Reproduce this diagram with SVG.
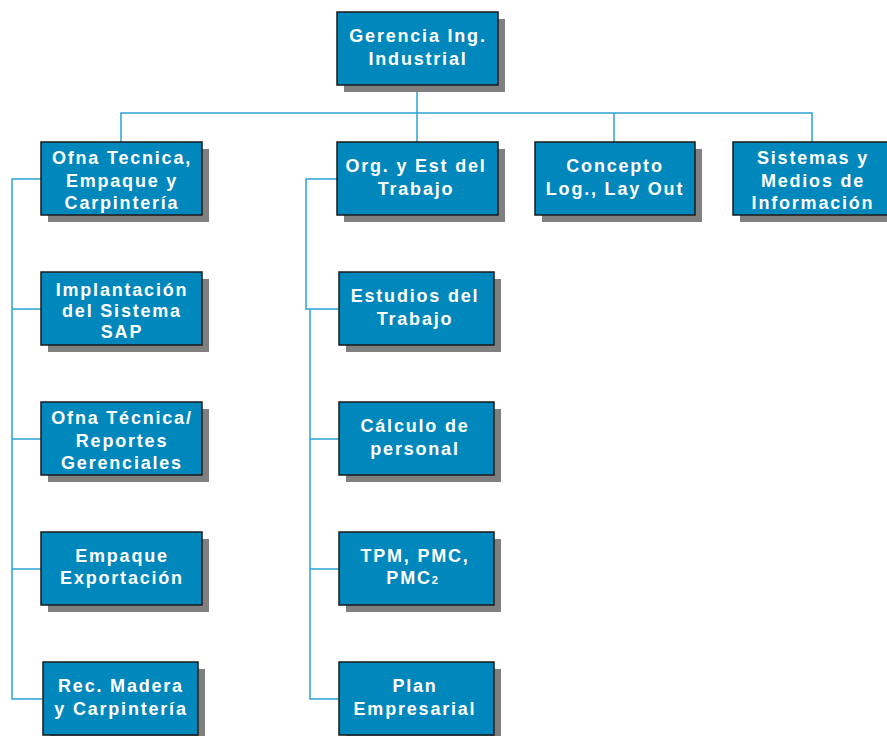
<svg xmlns="http://www.w3.org/2000/svg" width="887" height="736" viewBox="0 0 887 736">
<defs>
<style>
.box{fill:#0088BD;stroke:#1a1a1a;stroke-width:1.5}
.sh{fill:#808080}
.t{font-family:"Liberation Sans",Arial,sans-serif;font-weight:bold;font-size:18px;fill:#ffffff;text-anchor:middle;letter-spacing:1.8px}
.c{fill:none;stroke:#2BA3D4;stroke-width:1.5}
</style>
</defs>
<rect width="887" height="736" fill="#ffffff"/>
<g id="connectors">
<path class="c" d="M417 85 V142"/>
<path class="c" d="M121 142 V113 H812 V142"/>
<path class="c" d="M614 113 V142"/>
<path class="c" d="M41 179 H12 V699 H43"/>
<path class="c" d="M12 309 H41 M12 439 H41 M12 569 H41"/>
<path class="c" d="M337 179 H306 V309 H339"/>
<path class="c" d="M310 309 V699 H339 M310 439 H339 M310 569 H339"/>
</g>
<g id="n-gerencia">
<rect class="sh" x="344" y="19" width="161" height="73"/>
<rect class="box" x="337" y="12" width="161" height="73"/>
<text class="t" x="418" y="42">Gerencia Ing.</text>
<text class="t" x="418" y="65">Industrial</text>
</g>
<g id="n-ofna-tecnica">
<rect class="sh" x="48" y="149" width="161" height="73"/>
<rect class="box" x="41" y="142" width="161" height="73"/>
<text class="t" x="122" y="164">Ofna Tecnica,</text>
<text class="t" x="122" y="187">Empaque y</text>
<text class="t" x="122" y="209">Carpintería</text>
</g>
<g id="n-implantacion">
<rect class="sh" x="48" y="279" width="161" height="73"/>
<rect class="box" x="41" y="272" width="161" height="73"/>
<text class="t" x="122" y="296">Implantación</text>
<text class="t" x="122" y="317">del Sistema</text>
<text class="t" x="122" y="338">SAP</text>
</g>
<g id="n-reportes">
<rect class="sh" x="48" y="409" width="161" height="73"/>
<rect class="box" x="41" y="402" width="161" height="73"/>
<text class="t" x="122" y="424">Ofna Técnica/</text>
<text class="t" x="122" y="447">Reportes</text>
<text class="t" x="122" y="469">Gerenciales</text>
</g>
<g id="n-empaque">
<rect class="sh" x="48" y="539" width="161" height="73"/>
<rect class="box" x="41" y="532" width="161" height="73"/>
<text class="t" x="122" y="562">Empaque</text>
<text class="t" x="122" y="584">Exportación</text>
</g>
<g id="n-madera">
<rect class="sh" x="50" y="669" width="155" height="73"/>
<rect class="box" x="43" y="662" width="155" height="73"/>
<text class="t" x="121" y="692">Rec. Madera</text>
<text class="t" x="121" y="715">y Carpintería</text>
</g>
<g id="n-org">
<rect class="sh" x="344" y="149" width="161" height="73"/>
<rect class="box" x="337" y="142" width="161" height="73"/>
<text class="t" x="416" y="172">Org. y Est del</text>
<text class="t" x="416" y="195">Trabajo</text>
</g>
<g id="n-estudios">
<rect class="sh" x="346" y="279" width="155" height="73"/>
<rect class="box" x="339" y="272" width="155" height="73"/>
<text class="t" x="415" y="302">Estudios del</text>
<text class="t" x="415" y="325">Trabajo</text>
</g>
<g id="n-calculo">
<rect class="sh" x="346" y="409" width="155" height="73"/>
<rect class="box" x="339" y="402" width="155" height="73"/>
<text class="t" x="415" y="432">Cálculo de</text>
<text class="t" x="415" y="455">personal</text>
</g>
<g id="n-tpm">
<rect class="sh" x="346" y="539" width="155" height="73"/>
<rect class="box" x="339" y="532" width="155" height="73"/>
<text class="t" x="415" y="562">TPM, PMC,</text>
<text class="t" x="413" y="584">PMC<tspan font-size="11px">2</tspan></text>
</g>
<g id="n-plan">
<rect class="sh" x="346" y="669" width="155" height="73"/>
<rect class="box" x="339" y="662" width="155" height="73"/>
<text class="t" x="415" y="692">Plan</text>
<text class="t" x="415" y="715">Empresarial</text>
</g>
<g id="n-concepto">
<rect class="sh" x="542" y="149" width="160" height="73"/>
<rect class="box" x="535" y="142" width="160" height="73"/>
<text class="t" x="615" y="172">Concepto</text>
<text class="t" x="615" y="195">Log., Lay Out</text>
</g>
<g id="n-sistemas">
<rect class="sh" x="740" y="149" width="160" height="73"/>
<rect class="box" x="733" y="142" width="160" height="73"/>
<text class="t" x="813" y="164">Sistemas y</text>
<text class="t" x="813" y="187">Medios de</text>
<text class="t" x="813" y="209">Información</text>
</g>
</svg>
